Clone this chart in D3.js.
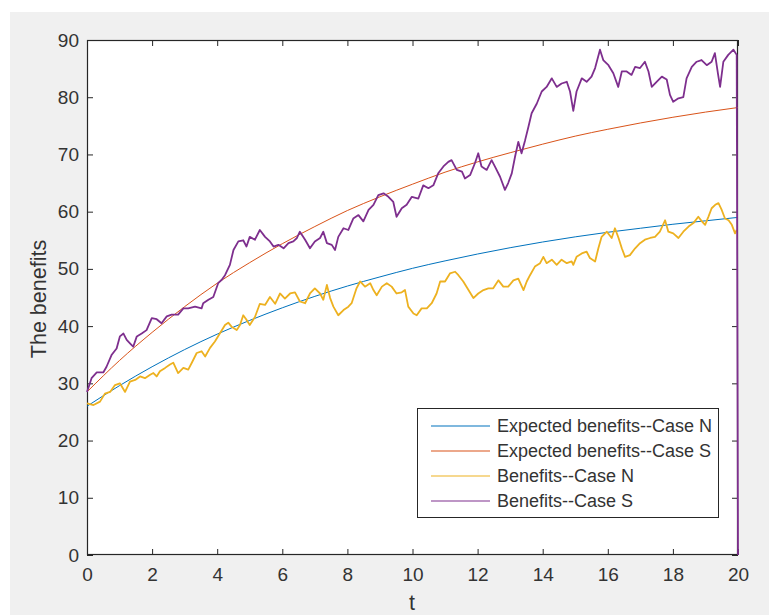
<!DOCTYPE html>
<html>
<head>
<meta charset="utf-8">
<script src="https://cdn.jsdelivr.net/npm/d3@7"></script>
<style>
  body { margin: 0; background: #fff; }
  text { font-family: "Liberation Sans", Arial, sans-serif; }
</style>
</head>
<body>
<svg id="chart"></svg>
<script>
// expected curves, read at integer t
const tExp = [0,1,2,3,4,5,6,7,8,9,10,11,12,13,14,15,16,17,18,19,20];
const expN = [26.0,29.6,32.9,35.9,38.6,41.0,43.2,45.2,47.0,48.6,50.1,51.4,52.6,53.7,54.7,55.6,56.4,57.1,57.8,58.4,59.0];
const expS = [28.5,34.0,38.9,43.4,47.5,51.1,54.4,57.4,60.2,62.6,64.8,66.9,68.7,70.3,71.8,73.2,74.4,75.5,76.5,77.4,78.2];

// simulated paths
const tN = [0,0.2,0.4,0.55,0.71,0.86,1.01,1.17,1.32,1.48,1.63,1.78,1.94,2.04,2.14,2.24,2.4,2.55,2.65,2.8,2.96,3.11,3.22,3.37,3.52,3.63,3.78,3.93,4.09,4.24,4.34,4.44,4.6,4.7,4.8,4.9,5.0,5.16,5.31,5.47,5.62,5.78,5.93,6.08,6.24,6.39,6.54,6.7,6.85,7.0,7.16,7.26,7.37,7.47,7.57,7.72,7.88,8.03,8.13,8.28,8.39,8.54,8.7,8.8,8.9,9.06,9.21,9.36,9.51,9.67,9.77,9.87,10.03,10.13,10.28,10.44,10.59,10.74,10.85,11.0,11.15,11.31,11.41,11.56,11.72,11.87,12.02,12.18,12.33,12.48,12.64,12.79,12.94,13.1,13.25,13.41,13.51,13.61,13.76,13.92,14.02,14.12,14.28,14.43,14.58,14.74,14.89,14.94,15.04,15.2,15.35,15.45,15.61,15.71,15.81,15.97,16.12,16.22,16.33,16.43,16.53,16.68,16.84,16.99,17.14,17.3,17.45,17.6,17.76,17.86,18.01,18.17,18.32,18.48,18.63,18.78,18.89,18.99,19.09,19.19,19.3,19.4,19.5,19.6,19.71,19.81,19.91,19.96];
const benN = [26.5,26.2,26.8,28.2,28.5,29.7,30.0,28.5,30.3,30.6,31.2,30.9,31.5,31.8,31.2,32.1,32.7,33.3,33.6,31.8,32.7,32.4,33.6,35.3,35.6,34.7,36.2,37.3,38.8,40.2,40.6,39.9,39.3,40.2,41.9,41.1,40.2,41.6,43.9,43.7,45.1,43.9,45.7,44.8,45.7,45.9,44.3,44.0,45.7,46.6,45.7,44.6,47.2,44.9,43.4,41.9,42.8,43.4,44.0,46.6,47.8,46.9,47.5,46.3,45.4,46.9,47.5,46.9,45.7,45.9,46.3,43.4,42.2,41.9,43.1,43.1,44.0,45.7,47.8,47.8,49.2,49.5,48.9,47.8,46.3,44.9,45.7,46.3,46.6,46.6,48.0,46.9,46.9,48.0,48.3,46.3,47.8,48.9,50.4,51.0,52.1,51.0,51.6,50.7,51.6,51.0,51.3,50.7,52.1,52.7,53.0,51.9,51.3,53.6,55.6,56.5,55.4,57.1,55.4,53.6,52.1,52.4,53.6,54.5,55.1,55.4,55.6,56.5,58.5,56.5,56.2,55.4,56.5,57.4,58.0,59.1,58.3,57.7,59.1,60.6,61.2,61.5,60.3,58.8,58.5,57.7,56.2,56.8];

const tS = [0,0.14,0.3,0.5,0.6,0.76,0.91,1.01,1.12,1.22,1.32,1.42,1.53,1.68,1.83,1.99,2.14,2.29,2.45,2.6,2.8,2.96,3.11,3.32,3.52,3.57,3.73,3.88,4.03,4.14,4.24,4.39,4.5,4.65,4.8,4.9,5.0,5.16,5.31,5.47,5.62,5.73,5.88,6.04,6.19,6.34,6.45,6.54,6.7,6.85,7.0,7.16,7.26,7.37,7.52,7.62,7.72,7.88,8.03,8.18,8.34,8.49,8.65,8.8,8.95,9.11,9.26,9.41,9.51,9.67,9.82,9.98,10.18,10.33,10.49,10.64,10.79,10.95,11.1,11.2,11.36,11.52,11.61,11.77,11.92,12.02,12.12,12.28,12.43,12.53,12.69,12.84,12.94,13.05,13.15,13.25,13.35,13.46,13.56,13.66,13.82,13.97,14.12,14.28,14.43,14.58,14.74,14.84,14.94,15.04,15.2,15.35,15.5,15.61,15.76,15.86,16.02,16.17,16.32,16.43,16.58,16.73,16.84,16.99,17.14,17.25,17.35,17.5,17.66,17.81,17.91,18.01,18.17,18.32,18.42,18.58,18.73,18.88,19.04,19.19,19.29,19.39,19.45,19.55,19.7,19.86,19.96,20];
const benS = [28.5,30.9,31.9,31.9,32.9,35.0,36.1,38.2,38.7,37.6,37.0,36.4,38.2,38.7,39.3,41.4,41.2,40.5,41.7,42.0,42.0,43.1,43.1,43.4,43.1,44.0,44.6,45.1,47.5,48.1,48.9,50.7,53.3,54.8,55.0,53.9,55.6,55.1,56.8,55.6,54.8,53.9,54.2,53.6,54.5,54.8,55.4,56.5,55.1,53.6,54.8,55.4,56.5,54.5,54.2,53.3,55.6,57.1,56.8,58.8,59.4,58.3,60.3,61.2,62.9,63.2,62.6,61.7,59.1,60.6,61.2,62.6,62.3,64.6,64.1,64.6,66.7,67.9,68.7,69.0,67.3,67.0,65.8,66.4,68.5,70.2,67.9,67.3,69.0,67.9,66.1,63.8,65.0,66.7,69.6,72.2,70.2,72.5,74.8,77.2,78.9,81.0,81.8,83.3,81.8,82.4,82.7,81.0,77.6,81.0,83.3,82.7,83.6,85.1,88.3,86.5,85.6,84.2,81.8,84.5,84.5,83.9,85.3,85.1,86.2,84.5,81.8,82.7,83.6,83.1,80.4,79.2,79.8,80.0,83.3,85.3,86.2,86.5,85.6,86.2,87.7,83.9,81.8,86.2,87.4,88.3,87.4,0];

const xTicks = [0,2,4,6,8,10,12,14,16,18,20];
const yTicks = [0,10,20,30,40,50,60,70,80,90];
const legendNames = ["Expected benefits--Case N", "Expected benefits--Case S", "Benefits--Case N", "Benefits--Case S"];
const colors = ["#0072BD", "#D95319", "#EDB120", "#7E2F8E"];

const width = 769, height = 615;
const svg = d3.select("#chart").attr("width", width).attr("height", height);

// figure background
svg.append("rect").attr("x", 10).attr("y", 12)
  .attr("width", width - 10).attr("height", height - 12)
  .attr("fill", "#f0f0f0");

const pLeft = 87, pTop = 40, pRight = 738, pBottom = 555;

const x = d3.scaleLinear().domain([0, 20]).range([pLeft, pRight]);
const y = d3.scaleLinear().domain([0, 90]).range([pBottom, pTop]);

svg.append("rect").attr("x", pLeft).attr("y", pTop)
  .attr("width", pRight - pLeft).attr("height", pBottom - pTop)
  .attr("fill", "#fff");

const axisColor = "#262626";
const textColor = "#333";

function styleAxis(g) {
  g.select(".domain").remove();
  g.selectAll(".tick line").attr("stroke", axisColor);
  g.selectAll(".tick text").attr("fill", textColor).attr("font-size", 19);
}

svg.append("g").attr("transform", `translate(0,${pBottom})`)
  .call(d3.axisBottom(x).tickValues(xTicks).tickSizeInner(-6).tickSizeOuter(0).tickPadding(13))
  .call(styleAxis);
svg.append("g").attr("transform", `translate(0,${pTop})`)
  .call(d3.axisTop(x).tickValues(xTicks).tickSizeInner(-6).tickSizeOuter(0).tickFormat(""))
  .call(styleAxis);
svg.append("g").attr("transform", `translate(${pLeft},0)`)
  .call(d3.axisLeft(y).tickValues(yTicks).tickSizeInner(-6).tickSizeOuter(0).tickPadding(8))
  .call(styleAxis);
svg.append("g").attr("transform", `translate(${pRight},0)`)
  .call(d3.axisRight(y).tickValues(yTicks).tickSizeInner(-6).tickSizeOuter(0).tickFormat(""))
  .call(styleAxis);

svg.append("rect").attr("x", pLeft + 0.5).attr("y", pTop + 0.5)
  .attr("width", pRight - pLeft - 1).attr("height", pBottom - pTop - 1)
  .attr("fill", "none").attr("stroke", axisColor).attr("stroke-width", 1.2);

// lines
const series = [
  { t: tExp, v: expN, w: 1, smooth: true },
  { t: tExp, v: expS, w: 1, smooth: true },
  { t: tN, v: benN, w: 1.8, smooth: false },
  { t: tS, v: benS, w: 1.8, smooth: false }
];

series.forEach((s, i) => {
  const line = d3.line()
    .x((d, j) => x(s.t[j]))
    .y(d => y(d))
    .curve(s.smooth ? d3.curveMonotoneX : d3.curveLinear);
  svg.append("path")
    .attr("d", line(s.v))
    .attr("fill", "none")
    .attr("stroke", colors[i])
    .attr("stroke-width", s.w)
    .attr("stroke-linejoin", "round");
});

// axis labels
svg.append("text").attr("x", 412).attr("y", 610)
  .attr("text-anchor", "middle").attr("font-size", 21.5).attr("fill", textColor)
  .text("t");
svg.append("text").attr("transform", "translate(46,299) rotate(-90)")
  .attr("text-anchor", "middle").attr("font-size", 21.5).attr("fill", textColor)
  .text("The benefits");

// legend
const lg = svg.append("g");
lg.append("rect").attr("x", 417.5).attr("y", 408.5).attr("width", 301).attr("height", 109)
  .attr("fill", "#fff").attr("stroke", axisColor).attr("stroke-width", 1);
legendNames.forEach((name, i) => {
  const ly = 426 + i * 25;
  lg.append("line").attr("x1", 431).attr("x2", 490).attr("y1", ly).attr("y2", ly)
    .attr("stroke", colors[i]).attr("stroke-width", 1.2);
  lg.append("text").attr("x", 497).attr("y", ly).attr("dy", "0.35em")
    .attr("font-size", 18).attr("fill", textColor).text(name);
});
</script>
</body>
</html>
